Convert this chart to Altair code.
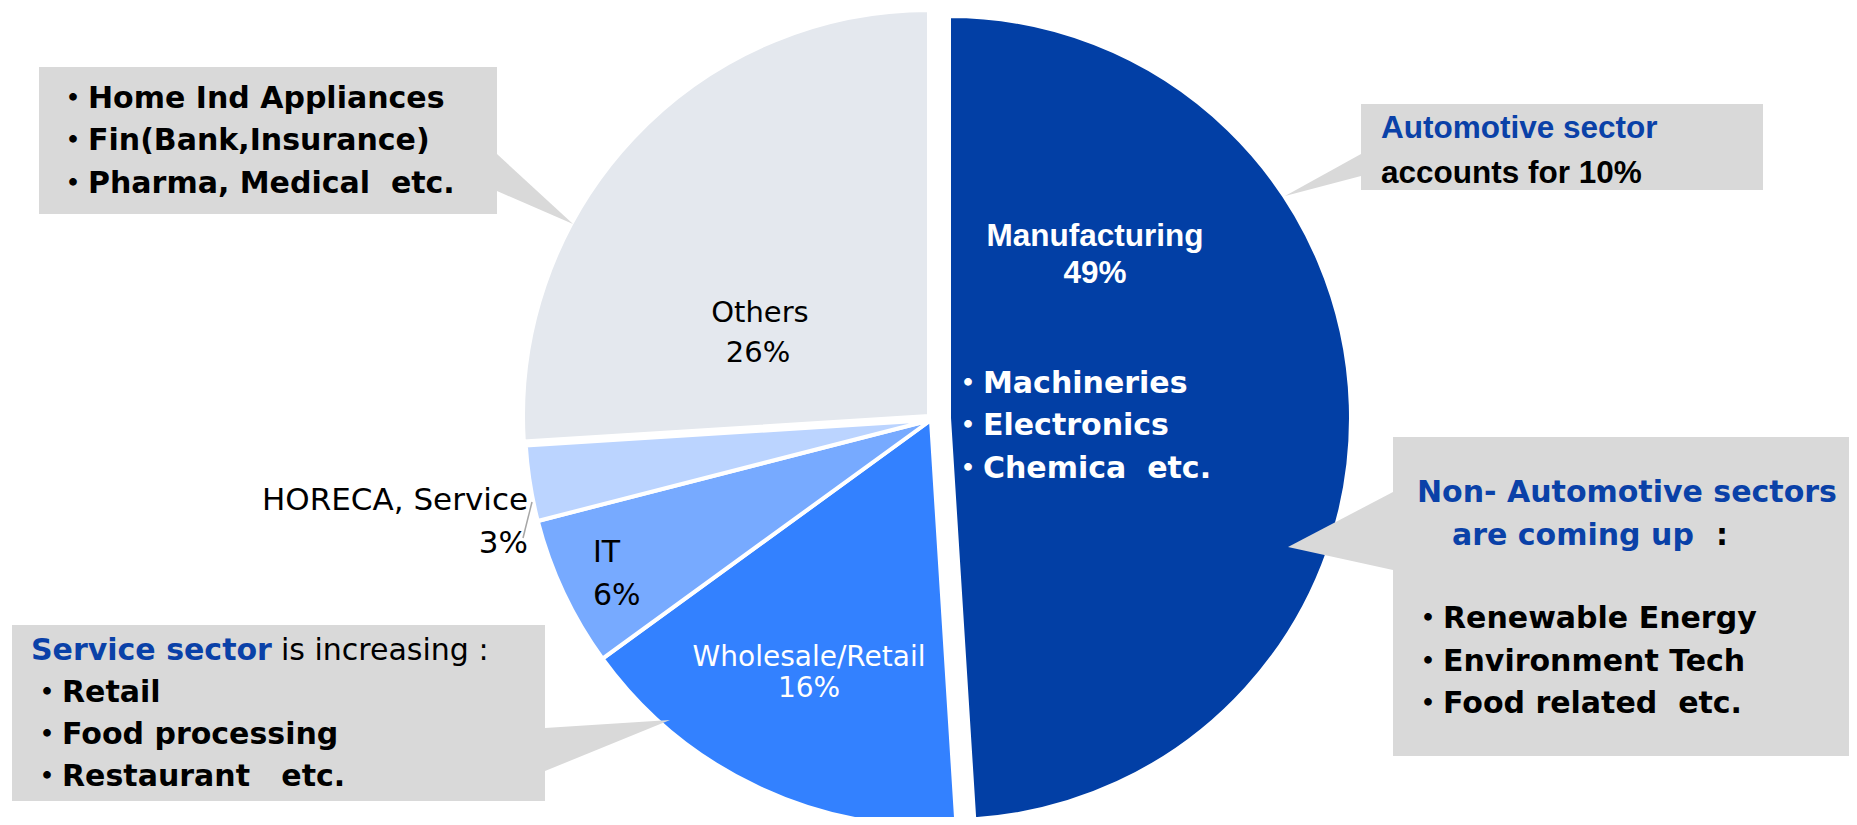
import altair as alt
import pandas as pd

NB = "\u00a0"

# ---------------- data ----------------
sectors = ["Manufacturing", "Wholesale/Retail", "IT", "HORECA, Service", "Others"]
shares = [49, 16, 6, 3, 26]
share_labels = ["49%", "16%", "6%", "3%", "26%"]
slice_colors = ["#023FA5", "#3381FF", "#77AAFF", "#BBD4FF", "#E4E8EE"]

others_notes = ["・Home Ind Appliances", "・Fin(Bank,Insurance)", "・Pharma, Medical" + NB + NB + "etc."]
auto_title = "Automotive sector"
auto_text = "accounts for 10%"
nonauto_title = ["Non- Automotive sectors", "are coming up"]
nonauto_notes = ["・Renewable Energy", "・Environment Tech", "・Food related" + NB + NB + "etc."]
service_title = "Service sector"
service_rest = "is increasing :"
service_notes = ["・Retail", "・Food processing", "・Restaurant" + NB + NB + NB + "etc."]
manuf_notes = ["・Machineries", "・Electronics", "・Chemica" + NB + NB + "etc."]

# ---------------- layout (page pixel coordinates) ----------------
M = 8
W, H = 1841, 809
BLUE = "#0A41A8"
GRAY = "#D9D9D9"
DJ = "DejaVu Sans, Noto Sans CJK JP"
AR = "Liberation Sans, Arial"

xs = alt.Scale(domain=[M, M + W], range=[0, W], nice=False, zero=False)
ys = alt.Scale(domain=[M, M + H], range=[0, H], nice=False, zero=False)
theta_scale = alt.Scale(domain=[0, 100], range=[0, 6.283185307179586])

df = pd.DataFrame({"sector": sectors, "share": shares, "color": slice_colors})
df["end"] = df["share"].cumsum()
df["start"] = df["end"] - df["share"]


def pie_layer(names, cx, cy, r):
    return (
        alt.Chart(df)
        .transform_filter(alt.FieldOneOfPredicate(field="sector", oneOf=names))
        .mark_arc(stroke="white", strokeWidth=4, radius=r)
        .encode(
            theta=alt.Theta("start:Q", scale=theta_scale),
            theta2="end:Q",
            color=alt.Color("color:N", scale=None),
            x=alt.value(cx - M),
            y=alt.value(cy - M),
        )
    )


def text_layer(rows, font, size, weight, color, align="left"):
    d = pd.DataFrame(rows, columns=["label", "x", "y"])
    return (
        alt.Chart(d)
        .mark_text(font=font, fontSize=size, fontWeight=weight, color=color,
                   align=align, baseline="alphabetic")
        .encode(x=alt.X("x:Q", scale=xs, axis=None),
                y=alt.Y("y:Q", scale=ys, axis=None),
                text="label:N")
    )


boxes = pd.DataFrame({
    "x": [39, 1361, 1393, 12],
    "x2": [497, 1763, 1849, 545],
    "y": [67, 104, 437, 625],
    "y2": [214, 190, 756, 801],
})
tri = pd.DataFrame({
    "id": ["a", "a", "b", "b", "c", "c", "d", "d"],
    "x": [497, 573, 1361, 1285, 1393, 1288, 545, 670],
    "y": [154, 224, 154, 196, 492, 547, 728, 720],
    "y2": [191, 224, 176, 196, 570, 547, 771, 720],
})
leader = pd.DataFrame({"x": [532], "x2": [523], "y": [502], "y2": [538]})

layers = [
    pie_layer(["Others"], 929, 416, 406),
    pie_layer(["Wholesale/Retail", "IT", "HORECA, Service"], 931, 420, 406),
    pie_layer(["Manufacturing"], 949, 418, 402),
    alt.Chart(boxes).mark_rect(color=GRAY).encode(
        x=alt.X("x:Q", scale=xs, axis=None), x2="x2:Q",
        y=alt.Y("y:Q", scale=ys, axis=None), y2="y2:Q"),
    alt.Chart(tri).mark_area(color=GRAY, orient="vertical").encode(
        x=alt.X("x:Q", scale=xs, axis=None),
        y=alt.Y("y:Q", scale=ys, axis=None), y2="y2:Q",
        detail="id:N"),
    alt.Chart(leader).mark_rule(color="#A6A6A6", strokeWidth=1.5).encode(
        x=alt.X("x:Q", scale=xs, axis=None), x2="x2:Q",
        y=alt.Y("y:Q", scale=ys, axis=None), y2="y2:Q"),
    # box texts
    text_layer([(others_notes[i], 58, b) for i, b in enumerate([108, 150, 193])],
               DJ, 30, "bold", "black"),
    text_layer([(auto_title, 1381, 138)], AR, 31.5, "bold", BLUE),
    text_layer([(auto_text, 1381, 183)], AR, 31.5, "bold", "black"),
    text_layer([(nonauto_title[0], 1417, 502), (nonauto_title[1], 1452, 545),
                (service_title, 31, 660)], DJ, 30, "bold", BLUE),
    text_layer([(":", 1716, 545)], DJ, 30, "bold", "black"),
    text_layer([(nonauto_notes[i], 1413, b) for i, b in enumerate([628, 671, 713])]
               + [(service_notes[i], 32, b) for i, b in enumerate([702, 744, 786])],
               DJ, 30, "bold", "black"),
    text_layer([(service_rest, 281, 660)], DJ, 30, "normal", "black"),
    # slice labels
    text_layer([(sectors[0], 1095, 246), (share_labels[0], 1095, 283)],
               AR, 31.5, "bold", "white", "center"),
    text_layer([(manuf_notes[i], 953, b) for i, b in enumerate([393, 435, 478])],
               DJ, 30, "bold", "white"),
    text_layer([(sectors[1], 809, 666), (share_labels[1], 809, 697)],
               DJ, 28, "normal", "white", "center"),
    text_layer([(sectors[2], 593, 562), (share_labels[2], 593, 605)],
               DJ, 30, "normal", "black"),
    text_layer([(sectors[3], 528, 510), (share_labels[3], 528, 553)],
               DJ, 31, "normal", "black", "right"),
    text_layer([(sectors[4], 760, 322), (share_labels[4], 758, 362)],
               DJ, 29, "normal", "black", "center"),
]

chart = (
    alt.layer(*layers)
    .properties(width=W, height=H, padding=0,
                autosize=alt.AutoSizeParams(type="none"))
    .configure_view(stroke=None)
)

chart.save("out.html", embed_options={"renderer": "svg", "actions": False})
